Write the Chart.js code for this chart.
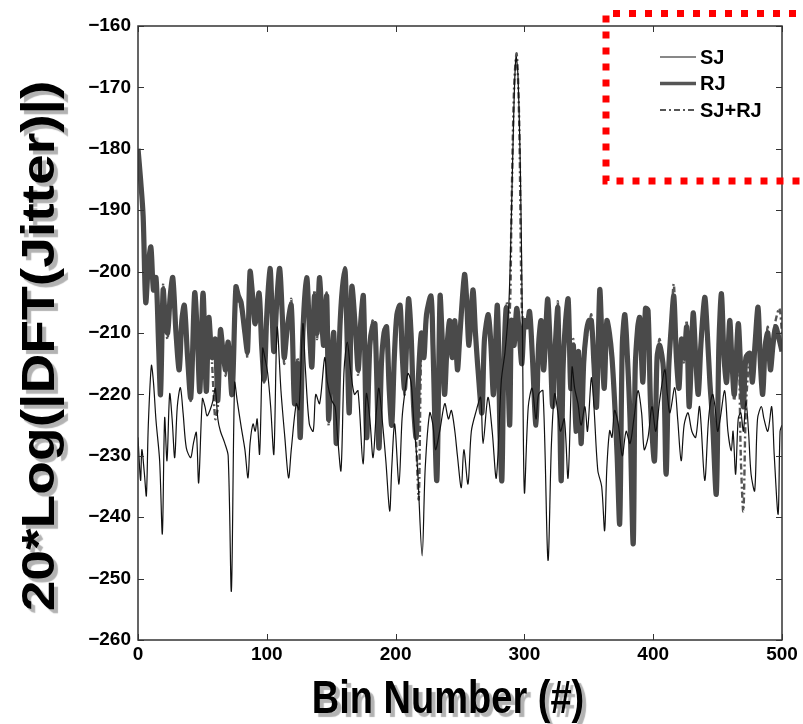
<!DOCTYPE html>
<html>
<head>
<meta charset="utf-8">
<script src="https://cdn.jsdelivr.net/npm/chart.js@4.4.1/dist/chart.umd.min.js"></script>
<style>
  html, body { margin: 0; padding: 0; background: #fff; }
  #grafico { display: block; }
</style>
</head>
<body>
<canvas id="grafico" width="803" height="724"></canvas>
<script>
// Eixos
const xTicks = [0, 100, 200, 300, 400, 500];
const yTicks = [-260, -250, -240, -230, -220, -210, -200, -190, -180, -170, -160];

// SJ (linha fina preta)
const sjBins = [0, 2, 3, 5, 6.5, 8, 10.4, 12, 14, 16.8, 18.9, 20.7, 22.5, 24.6, 26.5, 28.5, 30.5, 32.9, 35, 37.5,
  40.9, 43, 45.3, 47.1, 50, 52, 53.6, 56, 58.2, 60, 62, 64, 67.3, 70, 72.5, 75, 77, 80.2, 83, 85.4,
  87, 89.3, 91, 92.5, 94.4, 96.8, 98.5, 100.7, 103, 105.5, 108, 111, 114, 116.9, 119, 122.9, 125, 128, 130, 133,
  136, 138, 141, 145, 147, 150.4, 153, 155, 157.6, 160, 162.5, 165, 168, 170.8, 174.7, 177.3, 180, 182.5, 185, 187,
  190, 192.5, 195.4, 197, 199.3, 202.6, 205, 207, 209.6, 212, 214, 217, 220.6, 223, 226.5, 229, 231, 234.3, 238.2, 241,
  243.3, 246, 248, 251, 253, 256.2, 258.8, 262.7, 266, 267.9, 271.7, 275, 278.2, 282.1, 285, 288, 290, 292, 293.5, 295,
  297, 298.5, 300, 303, 306, 309, 311, 314.4, 318.3, 321, 323.5, 326, 328, 331, 333.9, 337, 339, 341.6, 344, 347,
  349, 352, 354, 357, 360, 362.3, 364, 366.2, 368, 370, 373, 376, 379, 382, 385, 388.2, 391, 393, 396, 399,
  402, 405, 409, 411, 413, 416.7, 419, 421.7, 424, 427, 430, 433, 436, 440, 443, 446, 448, 450, 452, 455.5,
  458, 460.6, 462, 464, 466, 468, 470, 472, 474, 476, 478.8, 481, 484, 486, 489, 492, 494, 497, 498.5, 500];
const sjValues = [-227, -234, -229, -233, -236.5, -225, -215.3, -218, -224.3, -230.8, -242.7, -223.8, -230.8, -219.9, -224, -230.3, -222, -218.9, -223, -228.7,
  -230.3, -228, -226.2, -234.4, -220.7, -222, -223.5, -222.5, -221, -219, -224, -226, -227.9, -230, -252, -218.1, -221, -225.4, -229, -233.6,
  -228, -224.8, -226, -224, -229.7, -212.5, -214, -216.6, -222, -229.7, -209.1, -219.4, -227, -233.6, -229, -221.5, -222.5, -208.5, -216, -224.8,
  -226, -220, -221.5, -214, -218, -221, -222, -227, -232.4, -216, -211.5, -216, -220, -219.4, -231.3, -219.9, -224, -230.3, -223, -219,
  -225, -231, -239, -232, -224.8, -234.6, -224, -220, -216.6, -218, -224, -232, -246.3, -232, -223, -225, -229, -225.9, -221.5, -224,
  -222.6, -226, -230, -235.2, -229, -234.6, -226, -222.6, -220.5, -228, -220.5, -226, -233.6, -217.7, -213, -205, -190, -172, -165, -168,
  -185, -210, -236, -222, -219, -224, -220, -219.4, -247, -228, -219.9, -223, -226, -224, -233.6, -215.6, -219, -221.5, -225, -222,
  -226, -217.3, -222, -232.4, -235, -242.2, -232, -225.9, -227, -222.6, -225, -230, -226, -228, -224, -219.4, -223, -229, -227, -222,
  -226, -221, -216, -220, -223, -218.9, -224, -230.8, -225, -223, -226, -227, -222, -234, -224, -220, -222, -226, -224, -219.4,
  -226, -229.2, -226, -233, -224, -223, -226, -221, -226, -233, -235.7, -224, -222, -224, -226, -222, -230, -239.5, -226, -225];

// RJ e SJ+RJ usam os mesmos bins
const rjBins = [0, 2, 4, 6, 8, 10, 12, 14, 16, 17.5, 19.5, 21, 23, 25, 27, 29.5, 32, 34, 36, 38.5,
  41, 44, 46, 48, 50.5, 53, 55, 57.5, 60, 62, 64, 66, 68, 70, 73, 76, 78, 80, 83, 85,
  87, 89, 91, 94, 96, 98, 100, 102.5, 104, 105.5, 108, 110, 112, 113.5, 116, 119, 121.5, 124, 126, 128,
  131, 133, 135, 137, 139, 141, 144, 146.5, 148, 150, 152, 154, 157, 160.5, 162, 164, 166, 169, 171, 173,
  175, 177.5, 180, 182, 184, 187, 189, 191, 193, 195, 197, 199, 201, 203.5, 205, 207, 210, 212, 214, 216,
  218, 220, 222, 224, 227.5, 229, 232, 234.5, 236, 238, 240, 242, 244, 246, 248, 250, 253.5, 255, 257, 260,
  262, 264, 267, 269, 272, 274, 276, 279, 281, 282.5, 284, 286, 288.5, 290, 292, 294, 296, 298, 300, 302,
  304, 306, 309, 311, 313, 315, 318, 320, 322, 324, 326, 328.5, 330, 332, 334, 336, 338, 340, 342, 344,
  346, 348, 350, 352, 354, 356, 358.5, 360, 362, 364, 366, 368, 370, 372, 374, 376, 378, 380, 382, 384.5,
  386, 388, 389.5, 392, 394, 396, 398, 401, 403, 405, 408, 410, 412, 414, 416, 418, 420, 422, 424, 426,
  428, 431, 433, 435, 437, 440, 442, 444, 446, 449, 451, 453, 455, 457, 459.4, 461, 463, 466, 468, 470,
  472, 475, 477, 479, 481.4, 483, 485, 487, 489, 491, 493, 495, 498, 500];

// RJ (linha grossa cinza)
const rjValues = [-180, -185, -191, -205, -199, -196, -203, -201, -212, -220, -203, -207, -210, -204, -201, -210, -216, -208, -205.5, -214,
  -220.5, -203.5, -210, -219.5, -203.5, -219.5, -207.5, -214, -211, -221, -209.5, -213, -216, -211.5, -220, -202.5, -204, -205, -210, -213,
  -200, -204, -208.5, -203.5, -212, -217.5, -207, -199.5, -206, -213, -204, -199.5, -207, -214, -209, -205.5, -221.5, -215, -227, -210,
  -201, -209, -215.5, -204, -210, -201, -212, -204, -224, -215, -210, -228, -208, -199.5, -208, -223, -202.5, -210, -216, -208,
  -204, -227, -212, -209, -208.5, -228.7, -215, -210, -209, -219, -225, -214, -207, -205.5, -213, -219, -204.5, -210, -222, -227,
  -216, -210, -214, -207, -204, -212, -234, -204, -210, -220, -212, -208, -214, -208, -216, -210, -200.5, -204, -212, -203,
  -210, -216, -223, -211, -207, -212, -220, -205.5, -226, -234, -215, -206, -225, -208, -212, -206, -210, -215, -208, -209,
  -206.5, -213, -225, -212, -208, -216, -204.5, -212, -222, -212, -206, -234, -216, -208, -204.5, -219, -212, -226, -213, -228,
  -215, -210, -208, -208, -215, -222, -203, -210, -219, -208, -210, -214, -221, -230, -241, -212, -207, -214, -224, -244.3,
  -216, -209, -207.5, -218, -206, -206.3, -222, -230.8, -214, -212, -216, -233, -216, -209, -204, -214, -219, -211, -214, -209,
  -222, -206.8, -214, -220, -212, -204.2, -210, -218, -224, -236.2, -212, -203.6, -214, -218, -208, -214, -220, -208.5, -216, -222,
  -214, -213.3, -218, -212, -205.8, -214, -220, -212, -210, -216, -212, -209, -211.2, -213];

// SJ+RJ (traço-ponto cinza)
const sjrjValues = [-181, -186, -190, -204, -200, -197, -202, -202, -211, -218, -202, -208, -211, -203, -202, -211, -215, -207, -206, -213,
  -221, -204, -209, -218, -204, -218, -208, -215, -224, -222, -210, -212, -217, -212, -219, -203, -205, -206, -209, -214,
  -201, -205, -208, -204, -213, -218, -206, -200, -207, -212, -205, -200, -206, -215, -210, -204.5, -220, -214, -226, -211,
  -202, -210, -214, -203, -211, -202, -211, -203.5, -225, -214, -211, -227, -209, -200.5, -209, -222, -203, -209, -217, -207,
  -205, -226, -213, -208, -209, -228, -216, -209, -210, -220, -224, -215, -208, -206, -212, -220, -205, -211, -221, -228,
  -237, -212, -213, -208, -205, -211, -232, -205, -211, -219, -211, -209, -213, -209, -215, -209, -201, -205, -211, -204,
  -211, -215, -222, -210, -208, -213, -219, -206, -225, -232, -214, -205, -207, -190, -170, -164.5, -176, -206, -209, -208,
  -207, -212, -224, -211, -209, -215, -205, -211, -221, -213, -205, -232, -215, -209, -205, -218, -211, -225, -214, -227,
  -214, -211, -209, -207, -216, -221, -204, -211, -218, -209, -211, -213, -220, -229, -239, -211, -208, -215, -223, -242,
  -215, -210, -208, -217, -207, -207, -221, -229, -215, -211, -217, -231, -215, -208, -202, -213, -218, -212, -215, -208,
  -221, -207.5, -215, -219, -211, -205, -211, -217, -223, -234, -213, -204.5, -213, -217, -209, -215, -221, -209, -230, -239,
  -222, -214, -217, -211, -206.5, -213, -219, -213, -209, -215, -211, -208, -206, -210];

const fonte = "'Liberation Sans', Arial, Helvetica, sans-serif";
const esticaY = 1.2; // texto dos titulos esticado na vertical, como na figura original

function pontos(bins, valores) {
    return bins.map((b, i) => ({ x: b, y: valores[i] }));
}

// Sombra cinza e posicao dos titulos dos eixos
const sombraTitulos = {
    id: 'sombraTitulos',
    beforeDraw(chart) {
        Object.values(chart.scales).forEach(scale => {
            if (scale._comSombra) return;
            const original = scale.drawTitle.bind(scale);
            scale.drawTitle = function () {
                const ctx = this.ctx;
                const size = this.options.title.font.size;
                let cx0, cy0, cx, cy;
                if (this.axis === 'x') {
                    cx0 = (this.left + this.right) / 2;
                    cy0 = this.bottom - size / 2;
                    cx = 448; cy = 700;
                } else {
                    cx0 = this.left + size / 2;
                    cy0 = (this.top + this.bottom) / 2;
                    cx = 41; cy = 346;
                }
                ctx.save();
                ctx.shadowColor = 'rgba(0, 0, 0, 0.3)';
                ctx.shadowOffsetX = 4;
                ctx.shadowOffsetY = 4;
                ctx.shadowBlur = 1;
                ctx.translate(cx - cx0, cy - esticaY * cy0);
                ctx.scale(1, esticaY);
                original();
                ctx.restore();
            };
            scale._comSombra = true;
        });
    }
};

// Moldura, ticks para dentro e legenda com caixa vermelha
const moldura = {
    id: 'moldura',
    afterDraw(chart) {
        const { ctx, chartArea: a, scales: { x, y } } = chart;
        ctx.save();
        ctx.strokeStyle = '#333';
        ctx.lineWidth = 1.5;
        ctx.strokeRect(a.left, a.top, a.right - a.left, a.bottom - a.top);

        ctx.lineWidth = 1;
        ctx.beginPath();
        xTicks.forEach(v => {
            const px = Math.round(x.getPixelForValue(v)) + 0.5;
            ctx.moveTo(px, a.bottom); ctx.lineTo(px, a.bottom - 6);
            ctx.moveTo(px, a.top); ctx.lineTo(px, a.top + 6);
        });
        yTicks.forEach(v => {
            const py = Math.round(y.getPixelForValue(v)) + 0.5;
            ctx.moveTo(a.left, py); ctx.lineTo(a.left + 6, py);
            ctx.moveTo(a.right, py); ctx.lineTo(a.right - 6, py);
        });
        ctx.stroke();

        // legenda
        const itens = [
            { texto: 'SJ', cor: '#111', largura: 1, tracejado: [] },
            { texto: 'RJ', cor: '#555', largura: 3.5, tracejado: [] },
            { texto: 'SJ+RJ', cor: '#555', largura: 1.8, tracejado: [6, 3, 2, 3] }
        ];
        ctx.fillStyle = '#000';
        ctx.font = 'bold 20px ' + fonte;
        ctx.textBaseline = 'middle';
        itens.forEach((it, i) => {
            const ly = 57 + i * 26.5;
            ctx.beginPath();
            ctx.strokeStyle = it.cor;
            ctx.lineWidth = it.largura;
            ctx.setLineDash(it.tracejado);
            ctx.moveTo(660, ly); ctx.lineTo(696, ly);
            ctx.stroke();
            ctx.setLineDash([]);
            ctx.fillText(it.texto, 700, ly + 1);
        });

        // caixa pontilhada vermelha
        ctx.strokeStyle = '#ff0000';
        ctx.lineWidth = 7;
        ctx.setLineDash([7, 9]);
        ctx.beginPath();
        ctx.moveTo(812, 13.5);
        ctx.lineTo(606, 13.5);
        ctx.lineTo(606, 181);
        ctx.lineTo(812, 181);
        ctx.stroke();
        ctx.restore();
    }
};

window.onload = function () {
    const ctx = document.getElementById('grafico').getContext('2d');
    const grafico = new Chart(ctx, {
        type: 'line',
        data: {
            datasets: [{
                label: 'SJ',
                data: pontos(sjBins, sjValues),
                borderColor: '#111',
                borderWidth: 1.2,
                pointRadius: 0,
                fill: false,
                tension: 0.3
            }, {
                label: 'RJ',
                data: pontos(rjBins, rjValues),
                borderColor: '#4a4a4a',
                borderWidth: 5.2,
                pointRadius: 0,
                fill: false,
                tension: 0.3
            }, {
                label: 'SJ+RJ',
                data: pontos(rjBins, sjrjValues),
                borderColor: '#555',
                borderWidth: 2.4,
                borderDash: [6, 3, 2, 3],
                pointRadius: 0,
                fill: false,
                tension: 0.3
            }]
        },
        options: {
            responsive: false,
            animation: false,
            layout: { padding: { left: 0, top: 26, right: 21, bottom: 0 } },
            plugins: {
                legend: { display: false },
                tooltip: { enabled: false }
            },
            scales: {
                x: {
                    type: 'linear',
                    min: 0,
                    max: 500,
                    afterFit: s => { s.height = 84; },
                    afterBuildTicks: s => { s.ticks = xTicks.map(v => ({ value: v })); },
                    grid: { display: false, drawTicks: false },
                    border: { display: false },
                    ticks: {
                        color: '#000',
                        font: { family: fonte, size: 19, weight: 'bold' },
                        padding: 3,
                        maxRotation: 0,
                        autoSkip: false
                    },
                    title: {
                        display: true,
                        text: 'Bin Number (#)',
                        color: '#000',
                        font: { family: fonte, size: 38, weight: 'bold', lineHeight: 1 },
                        padding: 0
                    }
                },
                y: {
                    type: 'linear',
                    min: -260,
                    max: -160,
                    afterFit: s => { s.width = 138; },
                    afterBuildTicks: s => { s.ticks = yTicks.map(v => ({ value: v })); },
                    grid: { display: false, drawTicks: false },
                    border: { display: false },
                    ticks: {
                        color: '#000',
                        font: { family: fonte, size: 19, weight: 'bold' },
                        padding: 7,
                        autoSkip: false,
                        callback: v => (v < 0 ? '\u2212' + Math.abs(v) : String(v))
                    },
                    title: {
                        display: true,
                        text: '20*Log(|DFT(Jitter)|)',
                        color: '#000',
                        font: { family: fonte, size: 46, weight: 'bold', lineHeight: 1 },
                        padding: 0
                    }
                }
            }
        },
        plugins: [sombraTitulos, moldura]
    });
};
</script>
</body>
</html>
